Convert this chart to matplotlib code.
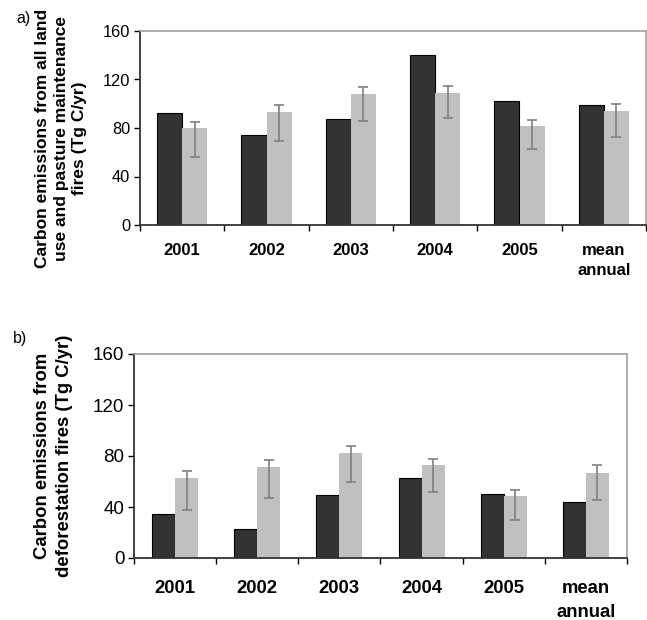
import matplotlib
matplotlib.use("Agg")
import matplotlib.pyplot as plt
import numpy as np

plt.rcParams['font.family'] = ['Liberation Sans', 'DejaVu Sans']

categories = ["2001", "2002", "2003", "2004", "2005", "mean\nannual"]

# Panel a: all land use and pasture maintenance fires
a_dark = [92, 74.5, 87.4, 140, 102, 99]
a_light = [80, 92.8, 107.8, 108.6, 81.6, 93.8]
a_err_hi = [85, 98.8, 113.8, 114.6, 86.4, 99.8]
a_err_lo = [56, 69.6, 85.4, 88.4, 62.8, 72.6]

# Panel b: deforestation fires
b_dark = [34.6, 23, 49.6, 62.6, 50.4, 43.8]
b_light = [62.4, 71, 82.4, 72.8, 48.4, 67]
b_err_hi = [68.4, 76.8, 88, 77.8, 53.4, 73.2]
b_err_lo = [38, 47.4, 59.6, 52, 29.6, 45.6]

W, H = 647, 620
fig = plt.figure(figsize=(W / 100, H / 100), dpi=100)


def panel(rect, dark, light, hi, lo, ylabel, tsize, lsize, lspace, lpad, ysize, yspace, bw):
    ax = fig.add_axes(rect)
    x = np.arange(len(categories))
    ax.bar(x - bw / 2, dark, bw, color='#333333', edgecolor='black', linewidth=0.8, zorder=2)
    light = np.array(light)
    yerr = [light - np.array(lo), np.array(hi) - light]
    ax.bar(x + bw / 2, light, bw, color='#c0c0c0', edgecolor='none', zorder=2)
    ax.errorbar(x + bw / 2, light, yerr=yerr, fmt='none', ecolor='#808080',
                elinewidth=1.2, capsize=3.5, capthick=1.2, zorder=3)
    ax.set_xlim(-0.5, len(categories) - 0.5)
    ax.set_ylim(0, 160)
    ax.set_yticks([0, 40, 80, 120, 160])
    ax.tick_params(axis='y', direction='out', length=4, width=1, labelsize=tsize, pad=3)
    ax.set_xticks(np.arange(-0.5, len(categories)), minor=False)
    ax.set_xticklabels([])
    ax.tick_params(axis='x', which='major', direction='out', length=4, width=1)
    ax.set_xticks(x, minor=True)
    ax.set_xticklabels(categories, minor=True, fontweight='bold', fontsize=lsize,
                       linespacing=lspace, va='top')
    ax.tick_params(axis='x', which='minor', length=0, pad=lpad)
    for s in ['left', 'bottom']:
        ax.spines[s].set_color('#333333')
        ax.spines[s].set_linewidth(1.3)
    for s in ['top', 'right']:
        ax.spines[s].set_color('#a0a0a0')
        ax.spines[s].set_linewidth(1.2)
    ax.set_ylabel(ylabel, fontweight='bold', fontsize=ysize, linespacing=yspace, va='center')
    return ax


axa = panel([140 / W, 1 - 225 / H, (646 - 140) / W, (225 - 31) / H],
            a_dark, a_light, a_err_hi, a_err_lo,
            "Carbon emissions from all land\nuse and pasture maintenance\nfires (Tg C/yr)",
            11.8, 12, 1.45, 13, 12.5, 1.26, 0.3)
axa.yaxis.set_label_coords(-0.156, 0.448)
fig.text(16 / W, 1 - 19 / H, "a)", fontsize=11.5, ha='left', va='center')

axb = panel([134 / W, 1 - 558 / H, (627 - 134) / W, (558 - 354) / H],
            b_dark, b_light, b_err_hi, b_err_lo,
            "Carbon emissions from\ndeforestation fires (Tg C/yr)",
            13.5, 13.3, 1.55, 15.5, 13.35, 1.4, 0.28)
axb.yaxis.set_label_coords(-0.164, 0.5)
fig.text(13 / W, 1 - 339 / H, "b)", fontsize=11.5, ha='left', va='center')

fig.savefig("out.png", dpi=100)
